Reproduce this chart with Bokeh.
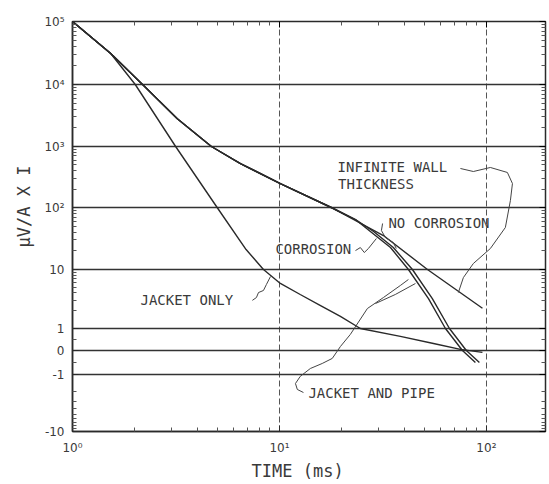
import numpy as np
from bokeh.plotting import figure
from bokeh.models import (FixedTicker, LinearAxis, LogAxis, CustomJSTickFormatter,
                          Range1d, Title, ColumnDataSource)
from bokeh.core.properties import value
from bokeh.embed import file_html
from bokeh.resources import INLINE

# ---------------- axis definition ----------------
GRID_VALUES = [-10, -1, 0, 1, 10, 100, 1000, 10000, 100000]
GRID_LABELS = ["-10", "-1", "0", "1", "10", "10²", "10³", "10⁴", "10⁵"]
GRID_POS = [0, 57, 81, 103, 162, 224, 285, 347, 410]   # scale layout of the y axis
U_KNOTS = [-2, -1, 0, 1, 2, 3, 4, 5, 6]

X_TICKS = [1, 10, 100]
X_LABELS = ["10⁰", "10¹", "10²"]

# ---------------- data ----------------
jacket_only_t = [1, 1.53, 2.01, 3.15, 5.0, 6.9, 8.37, 10.1, 12.6, 15.8, 19.7, 24.6, 38.4, 55.5, 74.9, 95.7]
jacket_only_v = [1e5, 3.1e4, 1e4, 1e3, 100, 21, 10, 5.8, 3.77, 2.45, 1.6, 1.0, 0.64, 0.32, 0.05, -0.08]

infinite_t = [1, 1.53, 2.18, 3.21, 4.69, 6.48, 10.1, 17.8, 31.8, 51.9, 95.7]
infinite_v = [1e5, 3.1e4, 1e4, 2800, 1e3, 525, 247, 100, 35.3, 10, 2.2]

corrosion_t = [1, 1.53, 2.18, 3.21, 4.69, 6.48, 10.1, 17.8, 23.3, 27.5, 34.4, 42.0, 52.5, 63.4, 76.6, 88.5]
corrosion_v = [1e5, 3.1e4, 1e4, 2800, 1e3, 525, 247, 100, 64, 41, 22.6, 10, 3.2, 1, 0, -0.5]

no_corrosion_t = [1, 1.53, 2.18, 3.21, 4.69, 6.48, 10.1, 17.8, 23.3, 28.5, 35.5, 43.9, 54.8, 66.3, 80.0, 92.5]
no_corrosion_v = [1e5, 3.1e4, 1e4, 2800, 1e3, 525, 247, 100, 64, 41, 22.6, 10, 3.2, 1, 0, -0.5]

# annotation labels (anchor time, anchor value)
label_text = ["INFINITE WALL", "THICKNESS", "NO CORROSION", "CORROSION", "JACKET ONLY", "JACKET AND PIPE"]
label_t = [19.1, 19.2, 33.6, 9.56, 2.13, 13.8]
label_v = [470, 247, 57, 21.8, 3.0, -2.15]

# leader lines (time, value)
leader_infinite_t = [74.9, 86.5, 104.5, 126.3, 133.6, 130.6, 123.5, 104.5, 86.5, 77.4, 73.2]
leader_infinite_v = [436, 389, 453, 375, 247, 130, 47.6, 21.8, 12.5, 7.3, 4.07]
leader_nocorr_t = [31.5, 31.1, 32.5, 35.5, 36.7]
leader_nocorr_v = [55.2, 42.5, 32.8, 27.2, 21.8]
leader_corr_t = [23.3, 24.6, 25.7, 26.9, 29.4]
leader_corr_v = [20.2, 22.6, 18.8, 21.8, 31.6]
leader_jacket_t = [7.4, 7.74, 7.92, 8.37, 8.65, 9.05]
leader_jacket_v = [3.0, 3.35, 4.07, 4.41, 5.57, 7.6]
leader_pipe_t = [13.06, 12.2, 11.95, 12.6, 14.1, 16.1, 18.0, 19.7, 22.0, 26.6, 31.8, 38.4, 42.0]
leader_pipe_v = [-2.07, -1.83, -1.44, -1.08, -0.75, -0.54, -0.33, 0.18, 0.73, 2.18, 3.35, 5.36, 6.77]
leader_pipe2_t = [29.1, 36.3, 45.4]
leader_pipe2_v = [2.65, 3.77, 5.79]


def ypos(v):
    v = np.asarray(v, dtype=float)
    a = np.maximum(np.abs(v), 1.0)
    u = np.where(v >= 1, 1 + np.log10(a), np.where(v <= -1, -1 - np.log10(a), v))
    return np.interp(u, U_KNOTS, GRID_POS)


# minor tick positions on the y axis
minor_vals = []
for n in range(0, 5):
    minor_vals += [m * 10 ** n for m in range(2, 10)]
minor_vals += [-m for m in range(2, 10)] + [0.5, -0.5]
Y_MINOR = [float(x) for x in ypos(minor_vals)]

X_END = 193
X_MINOR = [m * 10 ** n for n in range(0, 3) for m in range(2, 10) if m * 10 ** n < X_END]

INK = "#2a2a2a"
FONT = "DejaVu Sans"
MONO = "DejaVu Sans Mono"

p = figure(width=547, height=484, x_axis_type="log",
           x_range=Range1d(1, X_END), y_range=Range1d(0, 410),
           output_backend="svg", toolbar_location=None,
           min_border_left=72, min_border_right=2, min_border_top=21, min_border_bottom=53)
p.background_fill_color = "white"
p.border_fill_color = "white"
p.outline_line_color = INK
p.outline_line_width = 1.5

# y axis
p.yaxis.ticker = FixedTicker(ticks=GRID_POS, minor_ticks=Y_MINOR)
p.yaxis.formatter = CustomJSTickFormatter(
    args=dict(pos=GRID_POS, labs=GRID_LABELS),
    code="const i = pos.indexOf(Math.round(tick)); return i >= 0 ? labs[i] : '';")
# x axis
p.xaxis.ticker = FixedTicker(ticks=X_TICKS, minor_ticks=X_MINOR)
p.xaxis.formatter = CustomJSTickFormatter(
    args=dict(pos=X_TICKS, labs=X_LABELS),
    code="const i = pos.indexOf(Math.round(tick)); return i >= 0 ? labs[i] : '';")

for ax in (p.xaxis[0], p.yaxis[0]):
    ax.major_tick_in = 6
    ax.major_tick_out = 0
    ax.minor_tick_in = 4
    ax.minor_tick_out = 0
    ax.axis_line_color = INK
    ax.axis_line_width = 1.5
    ax.major_tick_line_color = INK
    ax.minor_tick_line_color = "#555555"
    ax.major_label_text_font = FONT
    ax.major_label_text_font_size = "12px"
    ax.major_label_text_color = "#3a3a3a"
p.yaxis.major_label_standoff = 8
p.xaxis.major_label_standoff = 9

blank = CustomJSTickFormatter(code="return '';")
# extra inward-ticked axes on the right and top
right_ax = LinearAxis(ticker=FixedTicker(ticks=GRID_POS, minor_ticks=Y_MINOR),
                      formatter=blank, major_tick_in=6, major_tick_out=0,
                      minor_tick_in=4, minor_tick_out=0, axis_line_color=INK,
                      major_label_standoff=0, minor_tick_line_color="#555555")
p.add_layout(right_ax, "right")
top_ax = LogAxis(ticker=FixedTicker(ticks=X_TICKS, minor_ticks=X_MINOR),
                 formatter=blank, major_tick_in=6, major_tick_out=0,
                 minor_tick_in=4, minor_tick_out=0, axis_line_color=INK,
                 major_label_standoff=0, minor_tick_line_color="#555555")
p.add_layout(top_ax, "above")

# grids
p.ygrid.ticker = FixedTicker(ticks=GRID_POS)
p.ygrid.grid_line_color = "#333333"
p.ygrid.grid_line_width = 1.5
p.xgrid.ticker = FixedTicker(ticks=[10, 100])
p.xgrid.grid_line_color = "#555555"
p.xgrid.grid_line_width = 1
p.xgrid.grid_line_dash = "6 3"

# axis titles
p.add_layout(Title(text="μV/A X I", align="left", offset=184, standoff=15, text_font=MONO,
                   text_font_size="17px", text_font_style="normal", text_color="#3a3a3a"), "left")
p.add_layout(Title(text="TIME (ms)", align="left", offset=179, standoff=2, text_font=MONO,
                   text_font_size="17px", text_font_style="normal", text_color="#3a3a3a"), "below")

# curves
for t, v in [(jacket_only_t, jacket_only_v), (infinite_t, infinite_v),
             (corrosion_t, corrosion_v), (no_corrosion_t, no_corrosion_v)]:
    p.line(t, ypos(v), line_color=INK, line_width=1.4)

# leader lines
for t, v in [(leader_infinite_t, leader_infinite_v), (leader_nocorr_t, leader_nocorr_v),
             (leader_corr_t, leader_corr_v), (leader_jacket_t, leader_jacket_v),
             (leader_pipe_t, leader_pipe_v), (leader_pipe2_t, leader_pipe2_v)]:
    p.line(t, ypos(v), line_color="#444444", line_width=1)

src = ColumnDataSource(dict(x=label_t, y=ypos(label_v), text=label_text))
p.text(x="x", y="y", text="text", source=src, text_font=value(MONO), text_font_size="14px",
       text_color="#3a3a3a", text_align="left", text_baseline="middle")

open("out.html", "w").write(file_html(p, INLINE))
